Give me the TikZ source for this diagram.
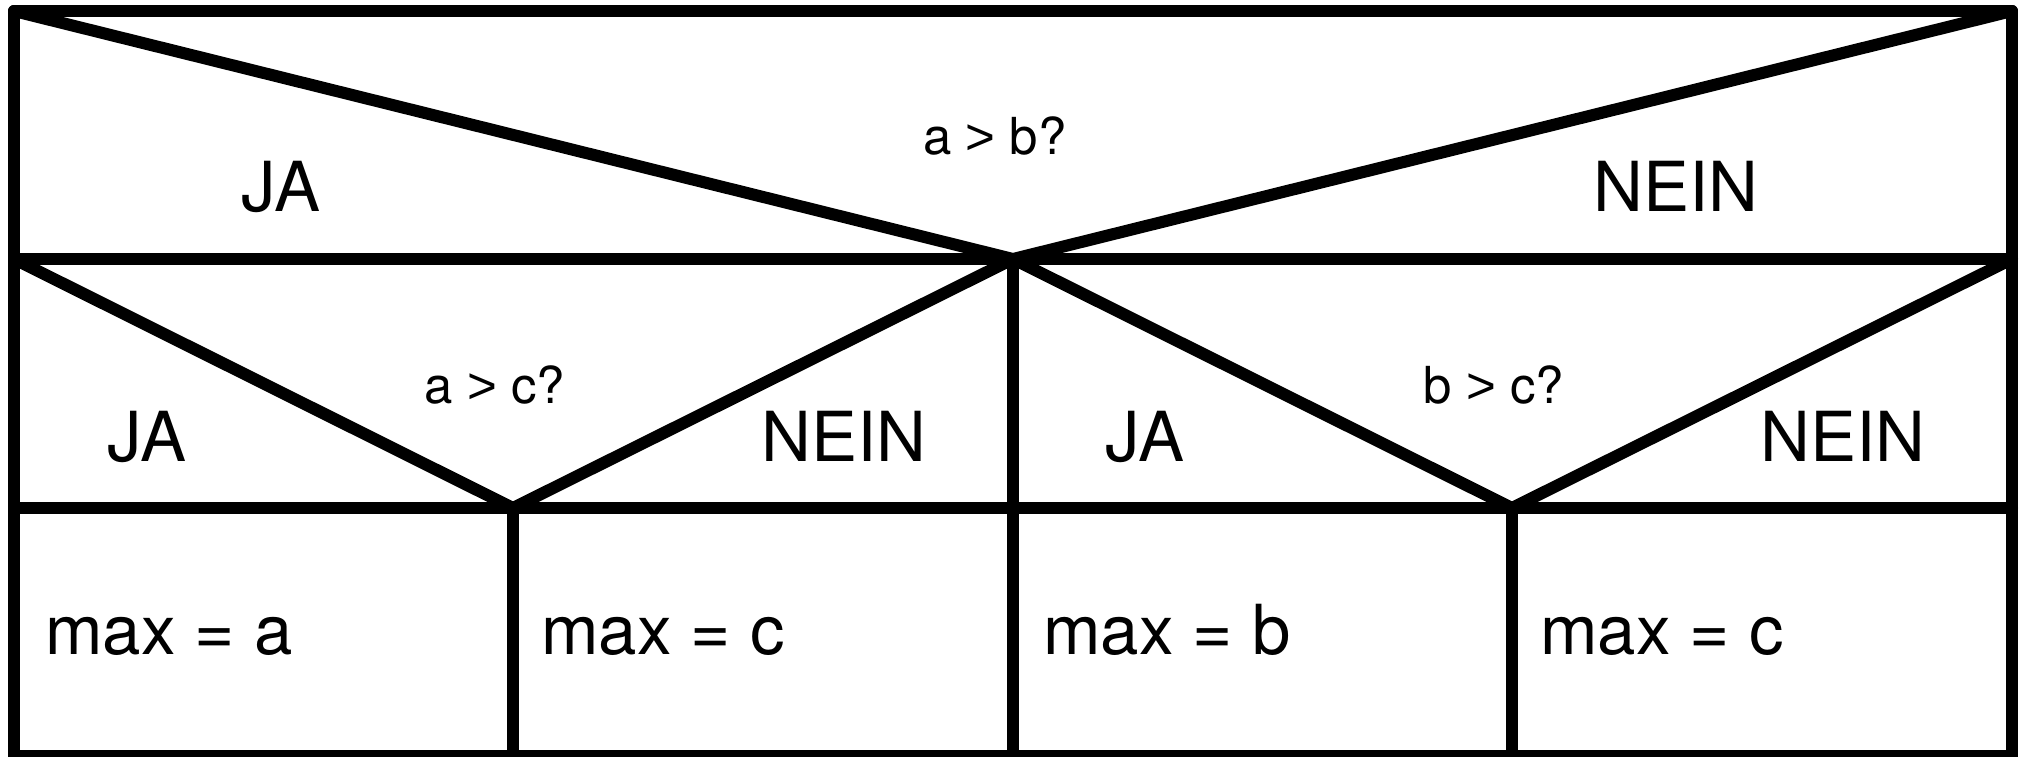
\documentclass[tikz,border=0pt]{standalone}
\usepackage{fontspec}
\setmainfont{TeX Gyre Heros}
\newfontfamily\gtfont{Liberation Sans}
\newcommand{\gtsym}{{\gtfont >}}
\begin{document}
\begin{tikzpicture}[x=0.5pt,y=-0.5pt,
  frame/.style={line width=6pt,line join=round,line cap=round},
  big/.style={font=\fontsize{34.5}{40}\selectfont,inner sep=0pt},
  small/.style={font=\fontsize{25.5}{30}\selectfont,inner sep=0pt}]
\useasboundingbox (0,0) rectangle (2026,756);
% grid coordinates
\coordinate (TL) at (14,11);
\coordinate (TR) at (2012,11);
\coordinate (M1L) at (14,259);
\coordinate (M1C) at (1013,259);
\coordinate (M1R) at (2012,259);
\coordinate (M2L) at (14,508);
\coordinate (M2A) at (513,508);
\coordinate (M2C) at (1013,508);
\coordinate (M2B) at (1512,508);
\coordinate (M2R) at (2012,508);
\coordinate (BL) at (14,756);
\coordinate (BA) at (513,756);
\coordinate (BC) at (1013,756);
\coordinate (BB) at (1512,756);
\coordinate (BR) at (2012,756);
% frame
\draw[frame] (BL) -- (TL) -- (TR) -- (BR) -- cycle;
\draw[frame] (M1L) -- (M1R);
\draw[frame] (M2L) -- (M2R);
\draw[frame] (M1C) -- (BC);
\draw[frame] (M2A) -- (BA);
\draw[frame] (M2B) -- (BB);
% diagonals
\draw[frame] (TL) -- (M1C) -- (TR);
\draw[frame] (M1L) -- (M2A) -- (M1C) -- (M2B) -- (M1R);
% texts
\node[small,anchor=base] (q1) at (995,154) {a \gtsym{} b?};
\node[big,anchor=base] (ja1) at (281,211) {JA};
\node[big,anchor=base] (nein1) at (1676,211) {NEIN};
\node[small,anchor=base] (q2) at (495,403) {a \gtsym{} c?};
\node[small,anchor=base] (q3) at (1494,403) {b \gtsym{} c?};
\node[big,anchor=base] (ja2) at (147,461) {JA};
\node[big,anchor=base] (nein2) at (844,461) {NEIN};
\node[big,anchor=base] (ja3) at (1145,461) {JA};
\node[big,anchor=base] (nein3) at (1843,461) {NEIN};
\node[big,anchor=base west] (r1) at (45,654) {max = a};
\node[big,anchor=base west] (r2) at (541,654) {max = c};
\node[big,anchor=base west] (r3) at (1043,654) {max = b};
\node[big,anchor=base west] (r4) at (1540,654) {max = c};
\end{tikzpicture}
\end{document}
